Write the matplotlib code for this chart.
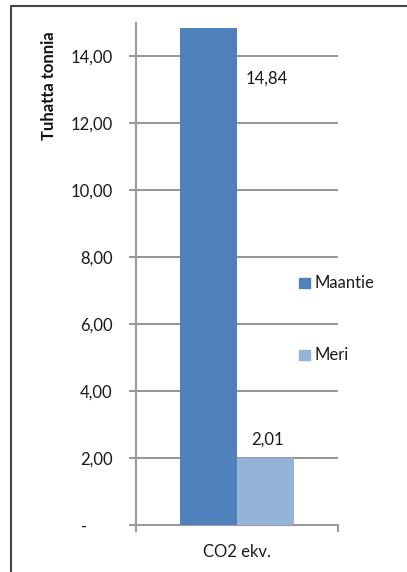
import matplotlib
matplotlib.use("Agg")
import matplotlib.pyplot as plt
from matplotlib.patches import Rectangle
from matplotlib.lines import Line2D

plt.rcParams['font.family'] = ['Lato', 'DejaVu Sans']

categories = ["CO2 ekv."]
series = ["Maantie", "Meri"]
values = [14.84, 2.01]
colors = ['#4F81BD', '#95B3D7']
yticks = [0, 2, 4, 6, 8, 10, 12, 14]
ytick_labels = ['-      ', '2,00', '4,00', '6,00', '8,00', '10,00', '12,00', '14,00']

W, H = 407, 572
fig = plt.figure(figsize=(W / 100, H / 100), dpi=100)

def fx(px):
    return px / W

def fy(py):
    return 1 - py / H

ax = fig.add_axes([fx(136), fy(525), fx(338) - fx(136), fy(23) - fy(525)])
ax.set_xlim(-0.5, 0.5)
ax.set_ylim(0, 15)

bw = 0.282
offsets = [-bw / 2, bw / 2]
for i, (name, v, c) in enumerate(zip(series, values, colors)):
    ax.bar(offsets[i], v, width=bw, color=c, zorder=3)

grid_col = '#8c8c8c'
for t in yticks[1:]:
    ax.axhline(t, color=grid_col, lw=1.3, zorder=1)

for s in ['top', 'right']:
    ax.spines[s].set_visible(False)
for s in ['left', 'bottom']:
    ax.spines[s].set_color('#9a9aa6')
    ax.spines[s].set_linewidth(1.5)

fs = 12
txt_col = '#1a1a1a'
ax.set_yticks(yticks)
ax.set_yticklabels(ytick_labels, fontsize=fs, color=txt_col)
ax.tick_params(axis='y', length=5, width=1.5, color='#9a9aa6', pad=12)
ax.set_xticks([-0.5, 0.5])
ax.set_xticklabels(['', ''])
ax.tick_params(axis='x', length=5, width=1.5, color='#9a9aa6')

fig.text(fx(237), fy(552), categories[0], ha='center', va='center', fontsize=fs, color=txt_col)
fig.text(fx(49), fy(86), 'Tuhatta tonnia', rotation=90, ha='center', va='center',
         fontsize=fs, fontweight='bold', color='#111111')

# data labels
fig.text(fx(267), fy(79), f"{values[0]:.2f}".replace('.', ','), ha='center', va='center',
         fontsize=fs, color=txt_col)
fig.text(fx(267), fy(440), f"{values[1]:.2f}".replace('.', ','), ha='center', va='center',
         fontsize=fs, color=txt_col)

# legend
for name, c, py in zip(series, colors, [283, 355]):
    fig.add_artist(Rectangle((fx(299), fy(py + 5)), fx(11), fy(py - 5) - fy(py + 5),
                             transform=fig.transFigure, color=c))
    fig.text(fx(314), fy(py), name, ha='left', va='center', fontsize=fs, color=txt_col)

# outer frame
fig.add_artist(Line2D([fx(10.5), fx(10.5), fx(407)], [fy(572), fy(6), fy(6)],
                      transform=fig.transFigure, color='#444444', lw=1.5))

fig.savefig('out.png', dpi=100)
